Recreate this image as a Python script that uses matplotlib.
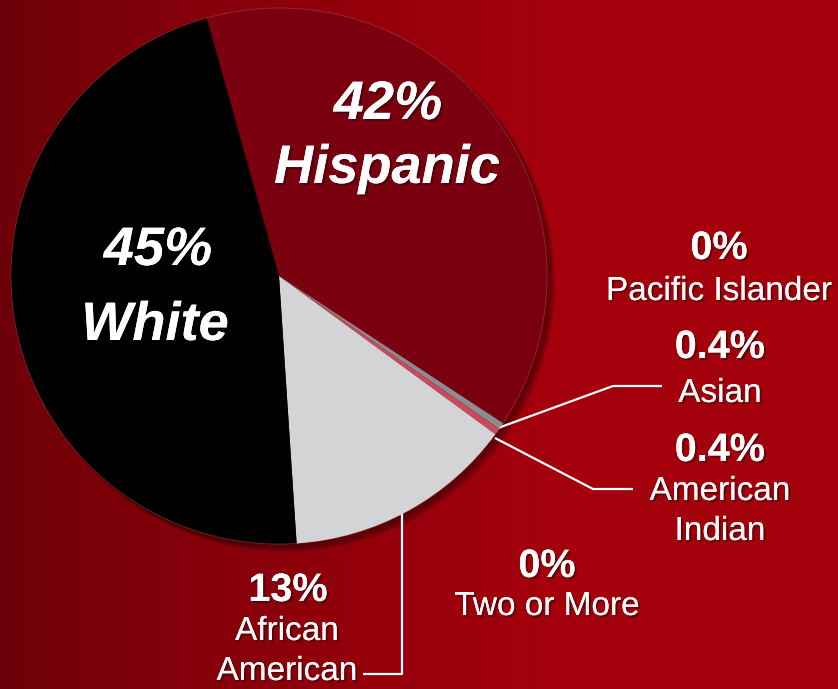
import numpy as np
import matplotlib
matplotlib.use("Agg")
import matplotlib.pyplot as plt
from matplotlib.patches import Circle
import matplotlib.patheffects as pe

# ---- data ----
groups = ["Hispanic", "Asian", "American Indian", "Pacific Islander",
          "Two or More", "African American", "White"]
label_pct = ["42%", "0.4%", "0.4%", "0%", "0%", "13%", "45%"]
# slice shares as drawn in the reference pie
shares = [38.6, 0.4, 0.4, 0.0, 0.0, 13.9, 46.7]
slice_colors = ["#7a0010", "#8a8d91", "#c84a5c", "#8a8d91",
                "#8a8d91", "#d3d4d6", "#000000"]

W, H = 838, 689
fig = plt.figure(figsize=(W / 100, H / 100), dpi=100)
ax = fig.add_axes([0, 0, 1, 1])
ax.set_xlim(0, W)
ax.set_ylim(0, H)
ax.set_aspect("equal")
ax.axis("off")

# background gradient
xs = np.linspace(0, 1, 400)
t = np.clip(xs * W / 560.0, 0, 1) ** 0.8
dark = np.array([0x6c, 0x00, 0x08]) / 255.0
bright = np.array([0xa4, 0x00, 0x0c]) / 255.0
row = dark[None, :] + (bright - dark)[None, :] * t[:, None]
img = np.repeat(row[None, :, :], 10, axis=0)
ax.imshow(img, extent=[0, W, 0, H], aspect="auto", zorder=0)

cx, cy, r = 279, H - 276, 268

# soft shadow
for k in range(5):
    ax.add_patch(Circle((cx + 3 + k, cy - 3 - k), r + 1, color="black",
                        alpha=0.09, lw=0, zorder=1))

def Y(y):
    return H - y

# leader lines (under the pie)
lw = 1.6
ax.plot([498, 613, 662], [Y(428), Y(386), Y(386)], color="white", lw=lw, zorder=2,
        solid_capstyle="butt")
ax.plot([495, 593, 633], [Y(438), Y(489), Y(489)], color="white", lw=lw, zorder=2,
        solid_capstyle="butt")
ax.plot([402, 402, 363], [Y(505), Y(674), Y(674)], color="white", lw=lw, zorder=2,
        solid_capstyle="butt")

vals = [s for s in shares if s > 0]
cols = [c for s, c in zip(shares, slice_colors) if s > 0]
wedges, _ = ax.pie(vals, colors=cols, startangle=105.65, counterclock=False,
                   center=(cx, cy), radius=r, frame=True,
                   wedgeprops=dict(linewidth=0, zorder=3))
for w in wedges:
    w.set_zorder(3)
ax.set_xlim(0, W)
ax.set_ylim(0, H)
ax.axis("off")
ax.add_patch(Circle((cx, cy), r, fill=False, edgecolor=(1, 0.7, 0.75, 0.2),
                    lw=0.7, zorder=4))

shadow = [pe.withSimplePatchShadow(offset=(1.5, -1.5), shadow_rgbFace="black",
                                   alpha=0.35), pe.Normal()]
fam = ["Liberation Sans", "DejaVu Sans"]

def txt(x, y, s, size, bold=False, italic=False):
    ax.text(x, Y(y), s, ha="center", va="baseline", color="white",
            fontsize=size, fontweight="bold" if bold else "normal",
            fontstyle="italic" if italic else "normal", family=fam,
            path_effects=shadow, zorder=6)

# big in-slice labels
txt(388, 119, label_pct[0], 39, True, True)
txt(387, 183, groups[0], 39, True, True)
txt(158, 265, label_pct[6], 39, True, True)
txt(155, 340, groups[6], 39, True, True)

# outside labels
bs, rs = 28.5, 24
txt(719, 259, label_pct[3], bs, True)
txt(719, 300, groups[3], rs)
txt(720, 358, label_pct[1], bs, True)
txt(720, 402, groups[1], rs)
txt(720, 461, label_pct[2], bs, True)
txt(720, 500, "American", rs)
txt(720, 540, "Indian", rs)
txt(547, 577, label_pct[4], bs, True)
txt(547, 615, groups[4], rs)
txt(288, 601, label_pct[5], bs, True)
txt(287, 640, "African", rs)
txt(287, 680, "American", rs)

fig.savefig("out.png", dpi=100)
